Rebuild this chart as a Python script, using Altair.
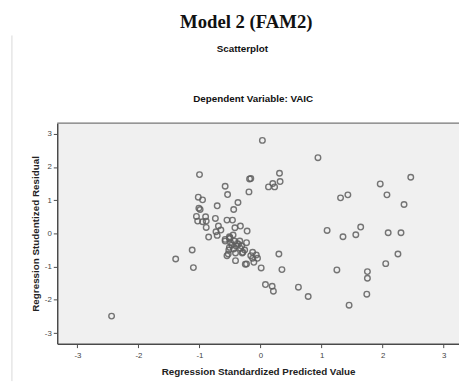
import altair as alt
import pandas as pd

# Regression standardized predicted value (x) and studentized residual (y)
pred = [
    0.03, 0.94, -1.00, -0.18, -0.16, 0.31, 0.32, 0.13, 0.20, 0.23,
    -0.58, -0.54, -0.19, -0.37, -0.44, -0.71, -1.02, -0.95, -1.01, -0.99,
    1.31, 1.43, 1.96, 2.46, 2.07, 2.35, 1.09, 1.35, 1.56, 1.64,
    2.09, 2.30, 2.25, 2.05, 0.30, -1.05, -0.90, -1.03, -0.95, -0.89,
    -0.74, -0.55, -0.46, -0.89, -0.69, -0.65, -0.73, -0.42, -0.33, -0.22,
    -0.85, -0.58, -0.51, -0.49, -0.43, -0.51, -0.45, -0.34, -0.23, -0.51,
    -0.44, -0.40, -0.31, -0.26, -0.29, -0.55, -0.53, -0.41, -0.23, -0.13,
    -0.13, -0.05, 0.01, 0.35, -1.12, -1.39, -1.10, 0.08, 0.19, 0.21,
    0.62, 0.78, 1.25, 1.45, 1.75, 1.75, 1.74, -0.25, -0.11, -0.16,
    -0.30, -0.41, -0.52, -2.44, -0.71, -0.58, -0.50, -0.07, -0.38, -0.36,
    -0.47, -0.33,
]
resid = [
    2.80, 2.28, 1.77, 1.64, 1.65, 1.81, 1.56, 1.40, 1.50, 1.40,
    1.42, 1.17, 1.25, 0.93, 0.72, 0.83, 1.09, 1.01, 0.76, 0.72,
    1.07, 1.16, 1.49, 1.69, 1.16, 0.87, 0.09, -0.10, -0.04, 0.19,
    0.02, 0.02, -0.62, -0.91, -0.62, 0.51, 0.50, 0.37, 0.35, 0.37,
    0.45, 0.40, 0.40, 0.18, 0.22, 0.10, 0.05, 0.17, 0.22, 0.07,
    -0.11, -0.23, -0.16, -0.28, -0.23, -0.10, -0.05, -0.23, -0.28, -0.42,
    -0.47, -0.38, -0.38, -0.50, -0.57, -0.67, -0.62, -0.82, -0.92, -0.57,
    -0.75, -0.75, -1.04, -1.09, -0.50, -0.77, -1.03, -1.54, -1.59, -1.74,
    -1.62, -1.90, -1.10, -2.16, -1.15, -1.35, -1.83, -0.93, -0.87, -0.67,
    -0.59, -0.59, -0.50, -2.49, -0.06, -0.18, -0.13, -0.65, -0.30, -0.33,
    -0.35, -0.45,
]

x_ticks = [-3, -2, -1, 0, 1, 2, 3]
y_ticks = [-3, -2, -1, 0, 1, 2, 3]

df = pd.DataFrame({"pred": pred, "resid": resid})

FONT = "Liberation Sans"
LINE = "#4a4a4a"

points = alt.Chart(df).mark_point(
    filled=False, size=32, strokeWidth=1.4, color="#5f5f5f", opacity=0.85
).encode(
    x=alt.X(
        "pred:Q",
        scale=alt.Scale(domain=[-3.33, 3.25], nice=False, zero=False),
        axis=alt.Axis(
            values=x_ticks, grid=False, title="Regression Standardized Predicted Value",
            titleFont=FONT, titleFontSize=10, titleFontWeight="bold", titleColor="#222",
            titlePadding=7, labelFont=FONT, labelFontSize=8, labelColor="#444",
            labelExpr="'' + datum.value", tickSize=4, tickColor=LINE, domainColor=LINE,
            domainWidth=1.5, labelPadding=4,
        ),
    ),
    y=alt.Y(
        "resid:Q",
        scale=alt.Scale(domain=[-3.32, 3.32], nice=False, zero=False),
        axis=alt.Axis(
            values=y_ticks, grid=False, title="Regression Studentized Residual",
            titleFont=FONT, titleFontSize=10, titleFontWeight="bold", titleColor="#222",
            titlePadding=4, labelFont=FONT, labelFontSize=8, labelColor="#444",
            labelExpr="'' + datum.value", tickSize=4, tickColor=LINE, domainColor=LINE,
            domainWidth=1.5, labelPadding=2,
        ),
    ),
)

top_line = alt.Chart(alt.Data(values=[{}])).mark_rule(color="#777", strokeWidth=1.5).encode(
    x=alt.value(0), x2=alt.value(410), y=alt.value(0)
)

side_line = alt.Chart(alt.Data(values=[{}])).mark_rule(color="#d8d8d8", strokeWidth=1).encode(
    x=alt.value(-46), y=alt.value(-89), y2=alt.value(262)
)

def label(text, x, y, size, font, weight="bold"):
    return alt.Chart(alt.Data(values=[{}])).mark_text(
        text=text, font=font, fontSize=size, fontWeight=weight, color="#111",
        align="center", baseline="alphabetic",
    ).encode(x=alt.value(x), y=alt.value(y))

t1 = label("Model 2 (FAM2)", 192, -97, 19, "Liberation Serif")
t2 = label("Scatterplot", 188, -72, 10, FONT)
t3 = label("Dependent Variable: VAIC", 199, -21, 10, FONT)

chart = alt.layer(side_line, points, top_line, t1, t2, t3).properties(
    width=408, height=224,
    autosize=alt.AutoSizeParams(type="none"),
    padding={"left": 50, "top": 114, "right": 0, "bottom": 36},
    background="white",
).configure_view(fill="#f0f0f0", stroke=None)

chart.save("out.html", embed_options={"renderer": "svg", "actions": False})
